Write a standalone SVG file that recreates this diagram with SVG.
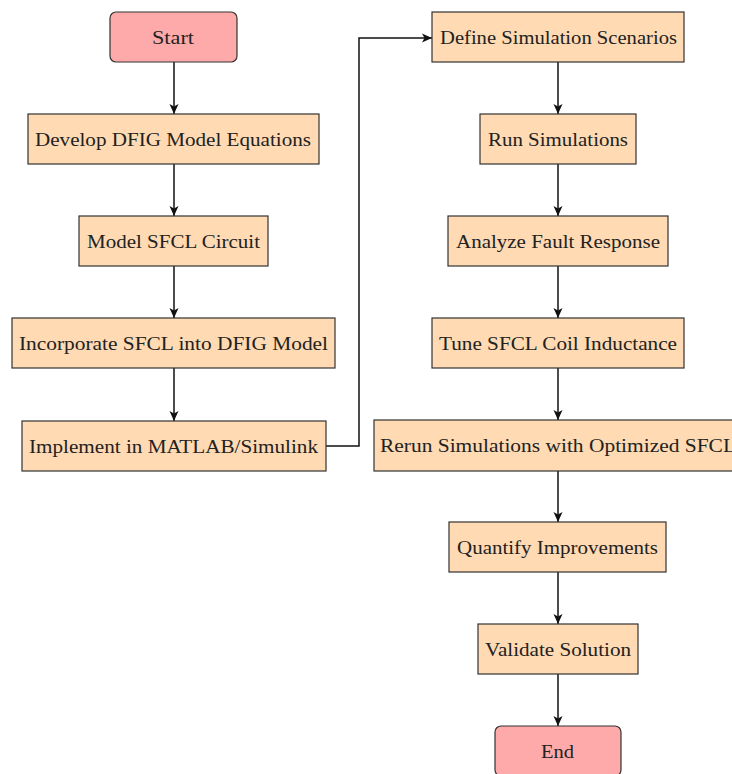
<svg xmlns="http://www.w3.org/2000/svg" width="732" height="774" viewBox="0 0 732 774">
<style>
.p{fill:#FFDAB3;stroke:#333;stroke-width:1.2}
.t{fill:#FFAAAA;stroke:#333;stroke-width:1.2}
text{font-family:"Liberation Serif","Times New Roman",serif;font-size:19px;fill:#222;text-anchor:middle}
.c path{fill:none;stroke:#111;stroke-width:1.5}
</style>
<defs>
<marker id="a" markerWidth="12" markerHeight="12" refX="10" refY="5" orient="auto" markerUnits="userSpaceOnUse">
<path d="M0,0.5 L10,5 L0,9.5 L2.5,5 Z" fill="#111"/>
</marker>
</defs>
<rect width="732" height="774" fill="#fff"/>
<g class="c">
<path d="M174,62 V114" marker-end="url(#a)"/>
<path d="M174,164 V216" marker-end="url(#a)"/>
<path d="M174,266 V318" marker-end="url(#a)"/>
<path d="M174,368 V421" marker-end="url(#a)"/>
<path d="M326,446 H359 V38 H432" marker-end="url(#a)"/>
<path d="M558,62 V114" marker-end="url(#a)"/>
<path d="M558,164 V216" marker-end="url(#a)"/>
<path d="M558,266 V318" marker-end="url(#a)"/>
<path d="M558,368 V420" marker-end="url(#a)"/>
<path d="M558,471 V522" marker-end="url(#a)"/>
<path d="M558,572 V624" marker-end="url(#a)"/>
<path d="M558,674 V726" marker-end="url(#a)"/>
</g>
<g id="start"><rect class="t" x="110" y="12" width="127" height="50" rx="6"/><text x="173" y="44" textLength="42" lengthAdjust="spacingAndGlyphs">Start</text></g>
<g id="develop"><rect class="p" x="28" y="114" width="291" height="50"/><text x="173" y="145.5" textLength="276" lengthAdjust="spacingAndGlyphs">Develop DFIG Model Equations</text></g>
<g id="model"><rect class="p" x="79" y="216" width="189" height="50"/><text x="173.5" y="247.5" textLength="173" lengthAdjust="spacingAndGlyphs">Model SFCL Circuit</text></g>
<g id="incorporate"><rect class="p" x="12" y="318" width="323" height="50"/><text x="173.5" y="349.5" textLength="309" lengthAdjust="spacingAndGlyphs">Incorporate SFCL into DFIG Model</text></g>
<g id="implement"><rect class="p" x="22" y="421" width="304" height="50"/><text x="173.5" y="452.5" textLength="289" lengthAdjust="spacingAndGlyphs">Implement in MATLAB/Simulink</text></g>
<g id="define"><rect class="p" x="432" y="12" width="252" height="50"/><text x="558.5" y="44" textLength="237" lengthAdjust="spacingAndGlyphs">Define Simulation Scenarios</text></g>
<g id="run"><rect class="p" x="480" y="114" width="156" height="50"/><text x="558" y="146" textLength="140" lengthAdjust="spacingAndGlyphs">Run Simulations</text></g>
<g id="analyze"><rect class="p" x="448" y="216" width="220" height="50"/><text x="558" y="247.5" textLength="204" lengthAdjust="spacingAndGlyphs">Analyze Fault Response</text></g>
<g id="tune"><rect class="p" x="432" y="318" width="252" height="50"/><text x="558" y="350" textLength="238" lengthAdjust="spacingAndGlyphs">Tune SFCL Coil Inductance</text></g>
<g id="rerun"><rect class="p" x="374" y="420" width="368" height="51"/><text x="558" y="452" textLength="356" lengthAdjust="spacingAndGlyphs">Rerun Simulations with Optimized SFCL</text></g>
<g id="quantify"><rect class="p" x="449" y="522" width="217" height="50"/><text x="557.5" y="553.5" textLength="201" lengthAdjust="spacingAndGlyphs">Quantify Improvements</text></g>
<g id="validate"><rect class="p" x="478" y="624" width="160" height="50"/><text x="558" y="656" textLength="146" lengthAdjust="spacingAndGlyphs">Validate Solution</text></g>
<g id="end"><rect class="t" x="495" y="726" width="126" height="50" rx="6"/><text x="557.5" y="758" textLength="33" lengthAdjust="spacingAndGlyphs">End</text></g>
</svg>
